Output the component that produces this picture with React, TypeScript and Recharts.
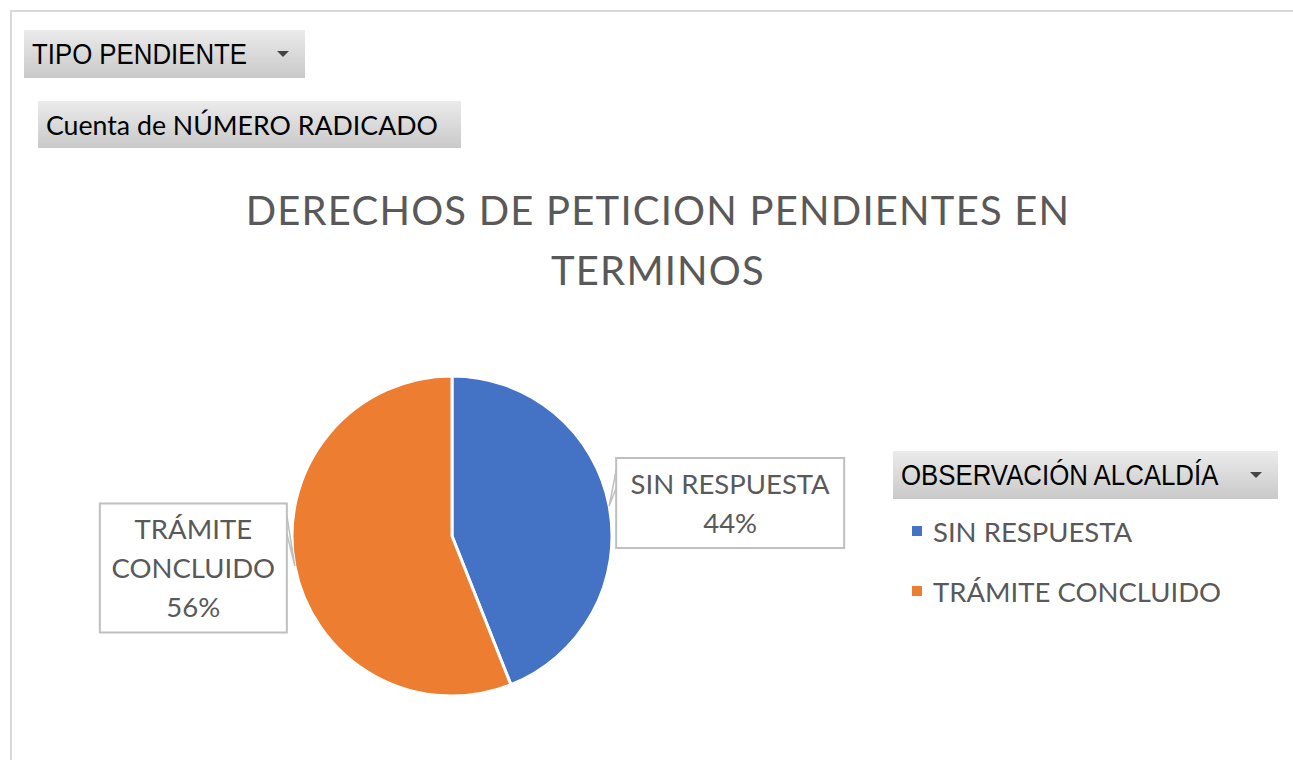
import React from "react";
import { PieChart, Pie, Cell, Legend } from "recharts";

const categories = ["SIN RESPUESTA", "TRÁMITE CONCLUIDO"];
const values = [44, 56];
const colors = ["#4472c4", "#ed7d31"];

const title = ["DERECHOS DE PETICION PENDIENTES EN", "TERMINOS"];
const filterLabel = "TIPO PENDIENTE";
const valueLabel = "Cuenta de NÚMERO RADICADO";
const legendTitle = "OBSERVACIÓN ALCALDÍA";

const data = categories.map((name, i) => ({ name, value: values[i] }));

const textColor = "#595959";
const labelFont = "Lato, 'Open Sans', sans-serif";
const narrowFont = "'Liberation Sans', Arial, sans-serif";

const RADIAN = Math.PI / 180;

const buttonStyle: React.CSSProperties = {
  position: "absolute",
  background: "linear-gradient(#ebebeb, #c9c9c9)",
  color: "#000",
  display: "flex",
  alignItems: "center",
  boxSizing: "border-box",
};

const Arrow = () => (
  <span
    style={{
      position: "absolute",
      right: 16,
      top: 21,
      width: 0,
      height: 0,
      borderLeft: "6px solid transparent",
      borderRight: "6px solid transparent",
      borderTop: "6px solid #444",
    }}
  />
);

// condensed text for the pivot buttons
const Narrow = ({ text }: { text: string }) => (
  <span style={{ display: "inline-block", transform: "scaleX(0.86)", transformOrigin: "left center", whiteSpace: "nowrap", fontFamily: narrowFont, fontSize: 30 }}>
    {text}
  </span>
);

// callout box beside the slice
const renderLabel = (props: any) => {
  const { cx, cy, midAngle, outerRadius, name, percent } = props;
  const px = cx + outerRadius * Math.cos(-midAngle * RADIAN);
  const py = cy + outerRadius * Math.sin(-midAngle * RADIAN);
  const right = px > cx;
  const pct = `${Math.round(percent * 100)}%`;
  const lines = name.length > 14 ? [...name.split(" "), pct] : [name, pct];
  const w = right ? 228 : 187;
  const lh = 39;
  const h = lines.length * lh + 12;
  const bx = right ? px + 7 : px - 8 - w;
  const by = py - h / 2 + (right ? -3 : 2);
  const edgeX = right ? bx : bx + w;
  return (
    <g>
      <polyline
        points={`${edgeX},${by + 12} ${px},${py} ${edgeX},${by + 30}`}
        fill="none"
        stroke="#bfbfbf"
        strokeWidth={1.5}
      />
      <rect x={bx} y={by} width={w} height={h} fill="#fff" stroke="#bfbfbf" strokeWidth={2} />
      {lines.map((l, i) => (
        <text
          key={i}
          x={bx + w / 2}
          y={by + 6 + lh * i + lh / 2}
          textAnchor="middle"
          dominantBaseline="central"
          fill={textColor}
          fontSize={27.5}
          fontFamily={labelFont}
        >
          {l}
        </text>
      ))}
    </g>
  );
};

const renderLegend = (props: any) => {
  const { payload } = props;
  return (
    <div style={{ width: 385 }}>
      <div style={{ ...buttonStyle, position: "relative", height: 48, padding: "0 8px" }}>
        <Narrow text={legendTitle} />
        <Arrow />
      </div>
      {payload.map((p: any, i: number) => (
        <div
          key={i}
          style={{
            display: "flex",
            alignItems: "center",
            height: 60,
            marginTop: i === 0 ? 2 : 0,
            paddingLeft: 19,
            fontFamily: labelFont,
            fontSize: 27.5,
            color: textColor,
          }}
        >
          <span style={{ width: 10, height: 10, background: p.color, marginRight: 11 }} />
          {p.value}
        </div>
      ))}
    </div>
  );
};

export default function App() {
  return (
    <div style={{ position: "absolute", left: 0, top: 0, width: 1293, height: 760, background: "#fff", overflow: "hidden" }}>
      <div style={{ position: "absolute", left: 10, top: 10, right: 0, bottom: 0, borderTop: "2px solid #d9d9d9", borderLeft: "2px solid #d9d9d9" }} />
      <div style={{ ...buttonStyle, left: 24, top: 30, width: 281, height: 48, padding: "0 8px" }}>
        <Narrow text={filterLabel} />
        <Arrow />
      </div>
      <div style={{ ...buttonStyle, left: 38, top: 101, width: 423, height: 47, padding: "0 8px", fontFamily: labelFont, fontSize: 26.7 }}>
        {valueLabel}
      </div>
      <div
        style={{
          position: "absolute",
          left: 158,
          width: 1000,
          top: 180,
          textAlign: "center",
          fontFamily: labelFont,
          fontSize: 40,
          lineHeight: "60px",
          color: textColor,
          letterSpacing: 1.2,
        }}
      >
        {title[0]}
        <br />
        {title[1]}
      </div>
      <PieChart
        width={1293}
        height={760}
        margin={{ top: 0, right: 0, bottom: 0, left: 0 }}
        style={{ position: "absolute", left: 0, top: 0 }}
      >
        <Pie
          data={data}
          dataKey="value"
          nameKey="name"
          cx={452}
          cy={536}
          outerRadius={160}
          startAngle={90}
          endAngle={-270}
          stroke="#fff"
          strokeWidth={3}
          label={renderLabel}
          labelLine={false}
          isAnimationActive={false}
        >
          {data.map((d, i) => (
            <Cell key={d.name} fill={colors[i]} />
          ))}
        </Pie>
        <Legend
          content={renderLegend}
          wrapperStyle={{ position: "absolute", left: 893, top: 451, width: 385 }}
        />
      </PieChart>
    </div>
  );
}
